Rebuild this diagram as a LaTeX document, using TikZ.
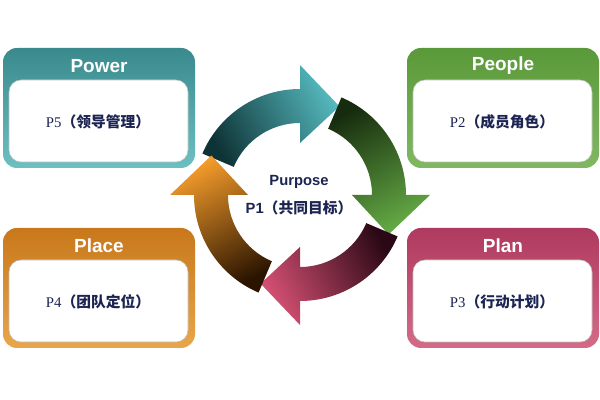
\documentclass[tikz,border=0pt]{standalone}
\usepackage{fontspec}
\setmainfont{Liberation Serif}
\setsansfont{Liberation Sans}
\newfontfamily\cjk{Noto Sans CJK SC}
\usetikzlibrary{calc}

% box frames
\definecolor{tlD}{HTML}{3A8A8D}
\definecolor{tlL}{HTML}{6CC0C2}
\definecolor{gnD}{HTML}{5A9939}
\definecolor{gnL}{HTML}{80B862}
\definecolor{orD}{HTML}{C8781B}
\definecolor{orL}{HTML}{E8A64B}
\definecolor{pkD}{HTML}{AF3A5F}
\definecolor{pkL}{HTML}{D36B88}
% ring arrows
\definecolor{tlK}{HTML}{0E3336}
\definecolor{tlA}{HTML}{55B9BE}
\definecolor{gnK}{HTML}{172C0E}
\definecolor{gnA}{HTML}{64AA45}
\definecolor{pkK}{HTML}{2A0815}
\definecolor{pkA}{HTML}{D45073}
\definecolor{orK}{HTML}{2A1400}
\definecolor{orA}{HTML}{F39B2B}
\definecolor{navy}{HTML}{1C2452}

\tikzset{
    hdr/.style={font=\sffamily\bfseries\fontsize{13.5}{15}\selectfont, text=white},
    bdy/.style={font=\fontsize{10.5}{12}\selectfont, text=navy},
    ctr/.style={font=\sffamily\bfseries\fontsize{10.5}{12}\selectfont, text=navy}
}

\begin{document}
\begin{tikzpicture}[x=0.025cm, y=0.025cm]
            \fill[white] (0,0) rectangle (600,400);
            \useasboundingbox (0,0) rectangle (600,400);

            % the four boxes
            \foreach \n/\x/\y/\col/\t/\p/\z in {pow/3/232/tl/Power/P5/领导管理, peo/407/232/gn/People/P2/成员角色, pla/3/52/or/Place/P4/团队定位, pln/407/52/pk/Plan/P3/行动计划}
                {
                    \shade[top color=\col D, bottom color=\col L, rounded corners=0.35cm] (\x,\y) rectangle ++(192,120);
                    \filldraw[fill=white, draw=black!25, rounded corners=0.3cm] ($(\x,\y)+(6,6)$) rectangle ++(179,82);
                    \node[hdr] (\n h) at ($(\x,\y)+(96,102)$) {\t};
                    \node[bdy] (\n b) at ($(\x,\y)+(95,46)$) {\p{\cjk\bfseries （\z）}};
                }

            % the ring
            \begin{scope}[shift={(300,205)}]
                \foreach \a/\dk/\lt [evaluate=\a as \sa using \a-152] in {90/tlK/tlA, 0/gnK/gnA, -90/pkK/pkA, 180/orK/orA}
                    {
                        \shade[top color=\lt, bottom color=\dk, shading angle=\sa]
                            (\a+67:106) arc[start angle=\a+67, end angle=\a, radius=106]
                            -- (\a:130) -- (\a-24:97) -- (\a:52) -- (\a:72)
                            arc[start angle=\a, end angle=\a+67, radius=72] -- cycle;
                    }
            \end{scope}

                \node[ctr] (purp) at (299,218) {Purpose};
                \node[ctr] (goal) at (299,192) {P1{\cjk （共同目标）}};

        \end{tikzpicture}
\end{document}
